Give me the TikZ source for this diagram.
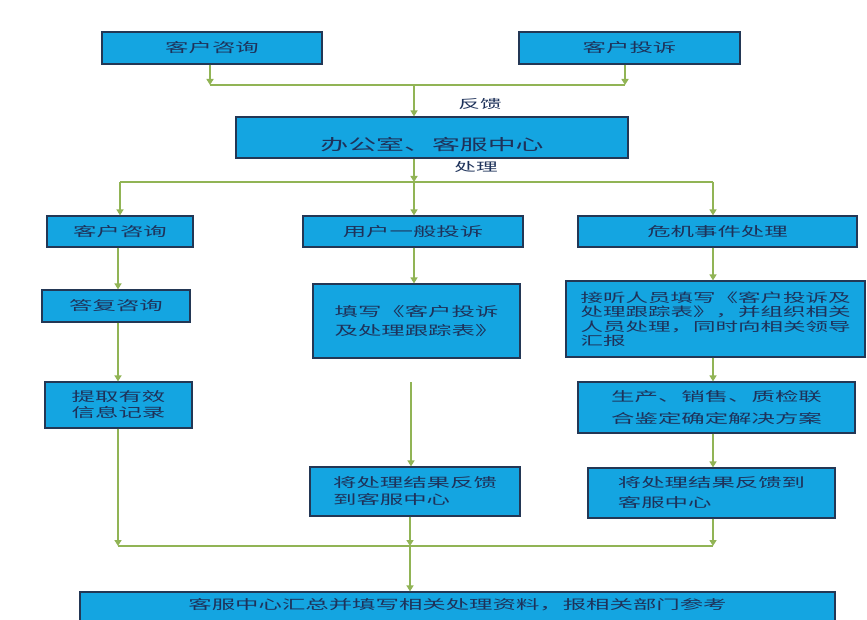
\documentclass[tikz,border=0pt]{standalone}
\usepackage{fontspec}
\setmainfont[FakeStretch=1.8]{Noto Sans CJK SC}
\usetikzlibrary{arrows.meta}
\definecolor{boxfill}{RGB}{20,165,225}
\definecolor{boxline}{RGB}{35,55,85}
\definecolor{txt}{RGB}{30,50,90}
\definecolor{conncol}{RGB}{145,180,85}
\begin{document}
\begin{tikzpicture}[x=1pt,y=-1pt,
  box/.style={draw=boxline, line width=1.2pt, fill=boxfill, text=txt, inner sep=0pt, align=center, font=\fontsize{13}{16}\selectfont},
  conn/.style={draw=conncol, line width=2pt},
  arr/.style={conn, -{Triangle[width=7pt,length=6pt]}},
  lbl/.style={text=txt, inner sep=0pt, font=\fontsize{12}{14}\selectfont}]
\useasboundingbox (0,0) rectangle (867,620);
\clip (0,0) rectangle (867,620);
\fill[white] (0,0) rectangle (867,620);

% nodes
\node[box, minimum width=220, minimum height=32] (a) at (212,48) {客户咨询};
\node[box, minimum width=221, minimum height=32] (b) at (629.5,48) {客户投诉};
\node[box, minimum width=392, minimum height=41, font=\fontsize{15.5}{18}\selectfont] (c) at (432,137.5) {\raisebox{-13pt}[0pt][0pt]{办公室、客服中心}};
\node[lbl] (fk) at (480,104) {反馈};
\node[lbl] (cl) at (476,167) {处理};

\node[box, minimum width=146, minimum height=31] (d) at (120,231.5) {客户咨询};
\node[box, minimum width=220, minimum height=31] (e) at (413,231.5) {用户一般投诉};
\node[box, minimum width=279, minimum height=31] (f) at (717.5,231.5) {危机事件处理};

\node[box, minimum width=148, minimum height=32] (g) at (116,306) {答复咨询};
\node[box, minimum width=147, minimum height=46, align=left] (h) at (118.5,405) {提取有效\\信息记录};

\node[box, minimum width=207, minimum height=74, align=left, font=\fontsize{13}{19}\selectfont] (i) at (416.5,321) {填写《客户投诉\\及处理跟踪表》};
\node[box, minimum width=210, minimum height=49, align=left, font=\fontsize{13}{17}\selectfont] (l) at (415,491.5) {将处理结果反馈\\到客服中心};

\node[box, minimum width=299, minimum height=76, align=left, font=\fontsize{12.5}{14.5}\selectfont] (j) at (715.5,319) {接听人员填写《客户投诉及\\处理跟踪表》，并组织相关\\人员处理，同时向相关领导\\汇报};
\node[box, minimum width=277, minimum height=51, font=\fontsize{13}{22}\selectfont] (k) at (716.5,407.5) {生产、销售、质检联\\合鉴定确定解决方案};
\node[box, minimum width=247, minimum height=50, align=left, font=\fontsize{13}{20}\selectfont] (m) at (711.5,493) {将处理结果反馈到\\客服中心};

\node[box, minimum width=755, minimum height=34] (n) at (457.5,609) {\smash{客服中心汇总并填写相关处理资料，报相关部门参考}};

% junction coordinates
\coordinate (j1) at (414,85);
\coordinate (j2) at (414,182);
\coordinate (j3) at (410,546);
\coordinate (x3) at (713,0);
\coordinate (c2s) at (411,382);

% top
\draw[arr] (a.south -| 210,0) -- (j1 -| 210,0);
\draw[arr] (b.south -| 625,0) -- (j1 -| 625,0);
\draw[conn] (j1 -| 210,0) -- (j1 -| 625,0);
\draw[arr] (j1) -- (c.north -| j1);
\draw[arr] (c.south -| j2) -- (j2);
\draw[conn] (j2 -| d.north) -- (j2 -| x3);
\draw[arr] (j2 -| d.north) -- (d.north);
\draw[arr] (j2) -- (e.north -| j2);
\draw[arr] (j2 -| x3) -- (f.north -| x3);

% column 1
\draw[arr] (d.south -| 118,0) -- (g.north -| 118,0);
\draw[arr] (g.south -| 118,0) -- (h.north -| 118,0);
\draw[arr] (h.south -| 118,0) -- (j3 -| 118,0);

% column 2
\draw[arr] (e.south -| j2) -- (i.north -| j2);
\draw[arr] (c2s) -- (l.north -| c2s);
\draw[arr] (l.south -| j3) -- (j3);

% column 3
\draw[arr] (f.south -| x3) -- (j.north -| x3);
\draw[arr] (j.south -| x3) -- (k.north -| x3);
\draw[arr] (k.south -| x3) -- (m.north -| x3);
\draw[arr] (m.south -| x3) -- (j3 -| x3);

% bottom
\draw[conn] (j3 -| 118,0) -- (j3 -| x3);
\draw[arr] (j3) -- (n.north -| j3);
\end{tikzpicture}
\end{document}
